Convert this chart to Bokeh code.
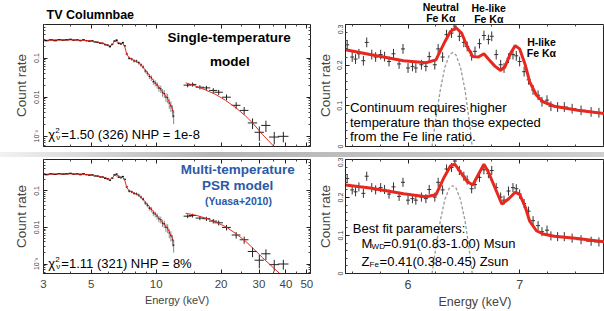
from bokeh.plotting import figure
from bokeh.models import Label, FixedTicker, Div, LogAxis, LinearAxis
from bokeh.layouts import column, row
from bokeh.embed import file_html
from bokeh.resources import INLINE

# ---------------- data ----------------
# XIS spectrum (shared by both left panels)
xis_energy = [3.10, 3.25, 3.40, 3.55, 3.70, 3.85, 4.00, 4.15, 4.30, 4.45, 4.60, 4.75, 4.90, 5.05,
              5.20, 5.35, 5.50, 5.65, 5.80, 5.95, 6.10, 6.25, 6.40, 6.55, 6.70, 6.85, 7.00, 7.15,
              7.30, 7.50, 7.70, 7.90, 8.10, 8.30, 8.50, 8.70, 8.90, 9.10, 9.30, 9.50, 9.70, 9.90,
              10.10, 10.30, 10.50, 10.70, 10.90, 11.10, 11.30, 11.50, 11.70, 11.90, 12.05]
xis_rate = [0.278, 0.292, 0.281, 0.296, 0.287, 0.294, 0.300, 0.286, 0.293, 0.280, 0.291, 0.279, 0.270, 0.274,
            0.258, 0.252, 0.240, 0.236, 0.221, 0.214, 0.196, 0.224, 0.272, 0.285, 0.238, 0.232, 0.246, 0.205,
            0.128, 0.099, 0.094, 0.085, 0.083, 0.076, 0.067, 0.059, 0.047, 0.041, 0.034, 0.031, 0.025, 0.023,
            0.0205, 0.0172, 0.0163, 0.0132, 0.0124, 0.0101, 0.0096, 0.0071, 0.0060, 0.0046, 0.0033]
xis_rel_err = [0.04, 0.04, 0.04, 0.04, 0.04, 0.04, 0.04, 0.04, 0.04, 0.04, 0.05, 0.05, 0.05, 0.05,
               0.05, 0.05, 0.05, 0.06, 0.06, 0.06, 0.06, 0.06, 0.06, 0.06, 0.06, 0.07, 0.07, 0.07,
               0.08, 0.09, 0.09, 0.10, 0.10, 0.11, 0.12, 0.12, 0.13, 0.14, 0.15, 0.16, 0.17, 0.18,
               0.19, 0.20, 0.21, 0.22, 0.23, 0.25, 0.27, 0.29, 0.31, 0.34, 0.38]
xis_half_bin = 0.075

# single-temperature model (top) and multi-temperature model (bottom), XIS band
model1_xis = [0.285, 0.287, 0.288, 0.289, 0.290, 0.290, 0.290, 0.289, 0.288, 0.286, 0.284, 0.280, 0.276, 0.271,
              0.264, 0.256, 0.247, 0.237, 0.226, 0.215, 0.204, 0.220, 0.268, 0.262, 0.250, 0.228, 0.236, 0.196,
              0.125, 0.101, 0.093, 0.087, 0.081, 0.074, 0.066, 0.058, 0.050, 0.043, 0.036, 0.031, 0.027, 0.0235,
              0.0205, 0.0178, 0.0156, 0.0136, 0.0120, 0.0105, 0.0091, 0.0075, 0.0061, 0.0049, 0.0040]
model2_xis = [0.286, 0.288, 0.289, 0.290, 0.291, 0.291, 0.290, 0.289, 0.288, 0.286, 0.283, 0.279, 0.275, 0.270,
              0.263, 0.255, 0.246, 0.236, 0.226, 0.216, 0.206, 0.222, 0.270, 0.255, 0.265, 0.226, 0.232, 0.194,
              0.124, 0.100, 0.093, 0.087, 0.081, 0.074, 0.066, 0.058, 0.050, 0.043, 0.037, 0.031, 0.027, 0.0236,
              0.0206, 0.0180, 0.0157, 0.0137, 0.0121, 0.0106, 0.0092, 0.0076, 0.0062, 0.0050, 0.0041]

# HXD points
hxd_energy = [14.0, 14.75, 15.95, 17.1, 18.4, 19.5, 21.2, 23.5, 25.6, 28.0, 30.1, 32.3, 35.3, 38.9]
hxd_rate = [0.0203, 0.0212, 0.0180, 0.0173, 0.0149, 0.0134, 0.0100, 0.0062, 0.0046, 0.0022, 0.00127,
            0.0019, 0.00096, 0.0010]
hxd_half_bin = [0.6, 0.6, 0.7, 0.7, 0.8, 0.9, 1.0, 1.1, 1.2, 1.4, 1.5, 1.6, 1.9, 2.2]
hxd_rel_err = [0.12, 0.12, 0.12, 0.13, 0.14, 0.15, 0.17, 0.20, 0.22, 0.30, 0.40, 0.32, 0.35, 0.30]

model1_hxd_energy = [13.7, 15.3, 17.0, 18.9, 21.0, 23.5, 26.0, 28.0, 31.2, 35.2, 38.0]
model1_hxd = [0.0233, 0.0191, 0.0152, 0.0117, 0.0083, 0.0053, 0.0033, 0.0022, 0.0011, 0.00055, 0.00035]
model2_hxd_energy = [13.7, 15.3, 17.0, 19.0, 21.1, 23.5, 26.1, 28.5, 31.2, 34.5, 38.4, 40.0]
model2_hxd = [0.0244, 0.0215, 0.0179, 0.0138, 0.0103, 0.0067, 0.0041, 0.0025, 0.00147, 0.00085, 0.00048, 0.00040]

# Fe-K band (shared by both right panels)
fe_energy = [5.455, 5.50, 5.53, 5.56, 5.60, 5.63, 5.675, 5.71, 5.755, 5.79, 5.83, 5.87, 5.92, 5.955,
             6.00, 6.04, 6.07, 6.12, 6.16, 6.19, 6.24, 6.27, 6.31, 6.345, 6.39, 6.42, 6.46, 6.50,
             6.53, 6.57, 6.60, 6.64, 6.68, 6.72, 6.75, 6.79, 6.83, 6.86, 6.90, 6.94, 6.97, 7.00,
             7.04, 7.08, 7.12, 7.165, 7.20, 7.245, 7.28, 7.34, 7.40, 7.47, 7.55, 7.64, 7.71]
fe_rate = [0.250, 0.220, 0.215, 0.228, 0.211, 0.256, 0.226, 0.220, 0.226, 0.221, 0.209, 0.228, 0.203, 0.240,
           0.193, 0.197, 0.193, 0.201, 0.197, 0.221, 0.201, 0.240, 0.220, 0.275, 0.279, 0.296, 0.271, 0.256,
           0.246, 0.223, 0.234, 0.253, 0.273, 0.263, 0.271, 0.226, 0.201, 0.193, 0.217, 0.226, 0.223, 0.209,
           0.184, 0.164, 0.139, 0.126, 0.110, 0.114, 0.099, 0.097, 0.097, 0.093, 0.089, 0.085, 0.083]
fe_half_bin = [0.018] * 48 + [0.022, 0.03, 0.033, 0.036, 0.042, 0.045, 0.045]
fe_err = 0.012

model1_fe_energy = [5.44, 5.66, 5.96, 6.16, 6.25, 6.325, 6.38, 6.43, 6.48, 6.53, 6.58, 6.63, 6.68, 6.72,
                    6.78, 6.83, 6.87, 6.92, 6.96, 7.00, 7.05, 7.09, 7.15, 7.21, 7.31, 7.52, 7.80]
model1_fe = [0.238, 0.226, 0.211, 0.206, 0.213, 0.255, 0.283, 0.292, 0.279, 0.246, 0.221, 0.220, 0.228, 0.215,
             0.197, 0.187, 0.197, 0.230, 0.248, 0.240, 0.201, 0.159, 0.126, 0.110, 0.099, 0.089, 0.080]
model2_fe_energy = [5.44, 5.66, 5.96, 6.16, 6.25, 6.325, 6.38, 6.42, 6.47, 6.53, 6.58, 6.635, 6.68, 6.72,
                    6.78, 6.84, 6.90, 6.96, 7.00, 7.05, 7.09, 7.15, 7.21, 7.31, 7.52, 7.80]
model2_fe = [0.233, 0.225, 0.210, 0.202, 0.207, 0.254, 0.283, 0.2875, 0.267, 0.242, 0.233, 0.263, 0.2875, 0.267,
             0.225, 0.183, 0.196, 0.214, 0.208, 0.175, 0.1375, 0.1125, 0.104, 0.098, 0.092, 0.082]

gauss_energy = [6.215, 6.25, 6.29, 6.33, 6.37, 6.40, 6.43, 6.47, 6.51, 6.545, 6.575]
gauss_rate = [0.0, 0.07, 0.14, 0.195, 0.225, 0.231, 0.225, 0.195, 0.14, 0.07, 0.0]

left_xticks = [3, 5, 10, 20, 30, 40, 50]
left_yticks = [0.001, 0.01, 0.1]
left_ytick_labels = {0.001: "10\u207b\u00b3", 0.01: "0.01", 0.1: "0.1"}
right_xticks = [6, 7]
right_yticks = [0, 0.1, 0.2, 0.3]
right_ytick_labels = {0: "0", 0.1: "0.1", 0.2: "0.2", 0.3: "0.3"}

# ---------------- styling ----------------
FONT = "Liberation Sans"
RED = "#e8281e"
BLUE = "#2b5aa8"


def lab(p, x, y, text, size="13px", bold=False, color="black", align="left",
        baseline="middle", xo=0, yo=0):
    p.add_layout(Label(x=x, y=y, text=text, text_font=FONT, text_font_size=size,
                       text_font_style="bold" if bold else "normal", text_color=color,
                       text_align=align, text_baseline=baseline, x_offset=xo, y_offset=yo))


def tick_style(ax):
    ax.major_tick_in = 4
    ax.major_tick_out = 0
    ax.minor_tick_in = 2
    ax.minor_tick_out = 0
    ax.axis_line_color = "#222222"
    ax.major_tick_line_color = "#222222"
    ax.minor_tick_line_color = "#444444"


def mirror(p, side, cls, ticker):
    ax = cls(ticker=ticker, major_label_text_font_size="1px", major_label_text_color=None,
             major_label_standoff=0)
    tick_style(ax)
    ax.axis_line_color = None
    p.add_layout(ax, side)


def common_axes(p, show_x, xlab_size, xtick_size):
    for ax in (p.xaxis[0], p.yaxis[0]):
        tick_style(ax)
        ax.major_label_text_font = FONT
        ax.axis_label_text_font = FONT
        ax.axis_label_text_font_style = "normal"
    p.yaxis.major_label_orientation = "vertical"
    p.yaxis.major_label_text_font_size = "7px"
    p.yaxis.major_label_standoff = 3
    p.yaxis.axis_label = "Count rate"
    p.yaxis.axis_label_text_font_size = "13.5px"
    p.yaxis.axis_label_standoff = 2
    if show_x:
        p.xaxis.major_label_text_font_size = xtick_size
        p.xaxis.major_label_standoff = 6
        p.xaxis.axis_label = "Energy (keV)"
        p.xaxis.axis_label_text_font_size = xlab_size
        p.xaxis.axis_label_standoff = 3
    else:
        p.xaxis.major_label_text_font_size = "1px"
        p.xaxis.major_label_text_color = None
        p.xaxis.major_label_standoff = 0
    p.xgrid.visible = False
    p.ygrid.visible = False
    p.outline_line_color = "#222222"
    p.outline_line_width = 1


def header(x_range, log, border_left, border_right):
    h = figure(width=314 if log else 290, height=24, x_range=x_range, y_range=(0, 1),
               x_axis_type="log" if log else "linear",
               min_border_left=border_left, min_border_right=border_right,
               min_border_top=0, min_border_bottom=0,
               output_backend="svg", toolbar_location=None)
    h.axis.visible = False
    h.xgrid.visible = False
    h.ygrid.visible = False
    h.outline_line_color = None
    return h


def left_panel(top, model_xis, model_hxd_e, model_hxd):
    p = figure(width=314, height=128 if top else 154, x_axis_type="log", y_axis_type="log",
               x_range=(3, 52), y_range=(5.5e-4, 0.72),
               min_border_left=43, min_border_right=4,
               min_border_top=0 if top else 2, min_border_bottom=6 if top else 32,
               output_backend="svg", toolbar_location=None)
    common_axes(p, not top, "11px", "11.5px")
    xt = FixedTicker(ticks=left_xticks, minor_ticks=[4, 6, 7, 8, 9, 15, 25, 35, 45])
    minors = [m * d for d in (1e-4, 1e-3, 1e-2, 1e-1) for m in range(2, 10)]
    yt = FixedTicker(ticks=left_yticks, minor_ticks=minors)
    p.xaxis.ticker = xt
    p.yaxis.ticker = yt
    p.yaxis.major_label_overrides = left_ytick_labels
    mirror(p, "right", LogAxis, yt)
    mirror(p, "above", LogAxis, xt)
    # XIS data
    p.segment(x0=xis_energy, x1=xis_energy,
              y0=[v * (1 - r) for v, r in zip(xis_rate, xis_rel_err)],
              y1=[v * (1 + r) for v, r in zip(xis_rate, xis_rel_err)],
              line_color="#8a8a8a", line_width=1)
    p.segment(x0=[e - xis_half_bin for e in xis_energy], x1=[e + xis_half_bin for e in xis_energy],
              y0=xis_rate, y1=xis_rate, line_color="black", line_width=1.3)
    # HXD data
    p.segment(x0=hxd_energy, x1=hxd_energy,
              y0=[v * (1 - r) for v, r in zip(hxd_rate, hxd_rel_err)],
              y1=[v * (1 + r) for v, r in zip(hxd_rate, hxd_rel_err)],
              line_color="#222222", line_width=1)
    p.segment(x0=[e - h for e, h in zip(hxd_energy, hxd_half_bin)],
              x1=[e + h for e, h in zip(hxd_energy, hxd_half_bin)],
              y0=hxd_rate, y1=hxd_rate, line_color="#222222", line_width=1)
    # models
    p.line(xis_energy, model_xis, line_color=RED, line_width=1)
    p.line(model_hxd_e, model_hxd, line_color=RED, line_width=1)
    return p


def right_panel(top, model_e, model_v):
    p = figure(width=290, height=128 if top else 154,
               x_range=(5.44, 7.76), y_range=(0, 0.3),
               min_border_left=28, min_border_right=0,
               min_border_top=0 if top else 2, min_border_bottom=6 if top else 32,
               output_backend="svg", toolbar_location=None)
    common_axes(p, not top, "12.5px", "12.5px")
    xt = FixedTicker(ticks=right_xticks, minor_ticks=[5.5, 5.75, 6.25, 6.5, 6.75, 7.25, 7.5, 7.75])
    p.xaxis.ticker = xt
    p.yaxis.ticker = FixedTicker(ticks=right_yticks,
                                 minor_ticks=[0.02, 0.04, 0.06, 0.08, 0.12, 0.14, 0.16, 0.18,
                                              0.22, 0.24, 0.26, 0.28])
    p.yaxis.major_label_overrides = right_ytick_labels
    mirror(p, "above", LinearAxis, xt)
    p.line(gauss_energy, gauss_rate, line_color="#9a9a9a", line_width=1.3, line_dash="3 2")
    p.segment(x0=fe_energy, x1=fe_energy,
              y0=[v - fe_err for v in fe_rate], y1=[v + fe_err for v in fe_rate],
              line_color="#333333", line_width=1)
    p.segment(x0=[e - h for e, h in zip(fe_energy, fe_half_bin)],
              x1=[e + h for e, h in zip(fe_energy, fe_half_bin)],
              y0=fe_rate, y1=fe_rate, line_color="#333333", line_width=1)
    p.line(model_e, model_v, line_color=RED, line_width=3)
    return p


p1 = left_panel(True, model1_xis, model1_hxd_energy, model1_hxd)
p2 = left_panel(False, model2_xis, model2_hxd_energy, model2_hxd)
p3 = right_panel(True, model1_fe_energy, model1_fe)
p4 = right_panel(False, model2_fe_energy, model2_fe)
h1 = header(p1.x_range, True, 43, 4)
h3 = header(p3.x_range, False, 28, 0)

# ---- header texts (above the top frames) ----
lab(h1, 3.1, 0.38, "TV Columnbae", size="12.5px", bold=True)
lab(h3, 6.31, 0.74, "Neutral", size="10.5px", bold=True, align="center")
lab(h3, 6.31, 0.29, "Fe K\u03b1", size="10.5px", bold=True, align="center")
lab(h3, 6.735, 0.70, "He-like", size="10.5px", bold=True, align="center")
lab(h3, 6.735, 0.25, "Fe K\u03b1", size="10.5px", bold=True, align="center")

# ---- texts, left panels ----
lab(p1, 21.8, 0.326, "Single-temperature", size="13.5px", bold=True, align="center")
lab(p1, 22.0, 0.0838, "model", size="13.5px", bold=True, align="center")
for p, yv, rest in ((p1, 0.00112, "=1.50 (326) NHP = 1e-8"), (p2, 0.00105, "=1.11 (321) NHP = 8%")):
    lab(p, 3.16, yv, "\u03c7", size="13px")
    lab(p, 3.16, yv, "2", size="8px", xo=7, yo=4)
    lab(p, 3.16, yv, "\u03bd", size="8px", xo=8, yo=-3)
    lab(p, 3.16, yv, rest, size="13px", xo=13)
lab(p2, 23.9, 0.386, "Multi-temperature", size="13.5px", bold=True, color=BLUE, align="center")
lab(p2, 23.9, 0.1445, "PSR model", size="13.5px", bold=True, color=BLUE, align="center")
lab(p2, 24.1, 0.0541, "(Yuasa+2010)", size="10.5px", bold=True, color=BLUE, align="center")

# ---- texts, right panels ----
lab(p3, 7.195, 0.258, "H-like", size="10.5px", bold=True, align="center")
lab(p3, 7.195, 0.2305, "Fe K\u03b1", size="10.5px", bold=True, align="center")
lab(p3, 5.48, 0.0967, "Continuum requires higher", size="13.3px")
lab(p3, 5.48, 0.0595, "temperature than those expected", size="13px")
lab(p3, 5.48, 0.0248, "from the Fe line ratio.", size="13.3px")

lab(p4, 5.505, 0.1175, "Best fit parameters:", size="13px")
lab(p4, 5.584, 0.080, "M", size="13px")
lab(p4, 5.584, 0.080, "WD", size="8px", xo=10, yo=-3)
lab(p4, 5.584, 0.080, "=0.91(0.83-1.00) Msun", size="13px", xo=22)
lab(p4, 5.584, 0.0325, "Z", size="13px")
lab(p4, 5.584, 0.0325, "Fe", size="8px", xo=8, yo=-3)
lab(p4, 5.584, 0.0325, "=0.41(0.38-0.45) Zsun", size="13px", xo=18)

sep = Div(text="", width=604, height=5, margin=0,
          styles={"background": "linear-gradient(to right, #f2f2f2, #b4b4b4 35%, #cfcfcf)"})

layout = column(row(h1, h3), row(p1, p3), sep, row(p2, p4))

open("out.html", "w").write(file_html(layout, INLINE))
